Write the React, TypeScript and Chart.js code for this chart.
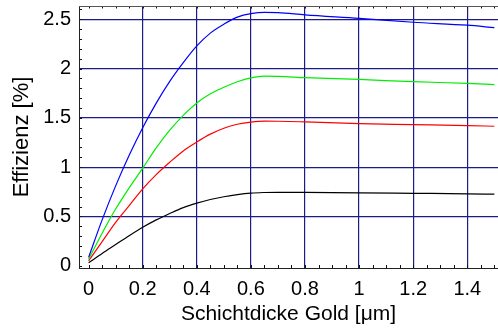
import React, { useEffect, useRef } from "react";
import { Chart, registerables } from "chart.js";

Chart.register(...registerables);

// thickness of gold layer [µm]
const thickness = [0, 0.05, 0.1, 0.15, 0.2, 0.25, 0.3, 0.35, 0.4, 0.45, 0.5, 0.55, 0.6, 0.65, 0.7, 0.8, 1.0, 1.2, 1.4, 1.5];

// efficiency [%]
const blueSeries = [0.085, 0.465, 0.81, 1.12, 1.4, 1.65, 1.87, 2.06, 2.23, 2.36, 2.45, 2.522, 2.557, 2.57, 2.568, 2.545, 2.51, 2.47, 2.44, 2.415];
const greenSeries = [0.065, 0.33, 0.575, 0.79, 0.99, 1.195, 1.375, 1.525, 1.65, 1.745, 1.81, 1.866, 1.906, 1.923, 1.922, 1.908, 1.89, 1.867, 1.85, 1.838];
const redSeries = [0.05, 0.245, 0.44, 0.61, 0.78, 0.925, 1.05, 1.165, 1.255, 1.335, 1.395, 1.435, 1.457, 1.467, 1.466, 1.459, 1.442, 1.432, 1.422, 1.415];
const blackSeries = [0.03, 0.125, 0.215, 0.305, 0.39, 0.465, 0.53, 0.59, 0.635, 0.672, 0.7, 0.722, 0.737, 0.743, 0.745, 0.744, 0.74, 0.735, 0.73, 0.726];

// axis ticks
const xMinorTicks = Array.from({ length: 31 }, (_, i) => Number((i * 0.05).toFixed(2)));
const yMinorTicks = Array.from({ length: 27 }, (_, i) => Number((i * 0.1).toFixed(2)));
const xLabelStep = 0.2;
const yLabelStep = 0.5;

const X_MIN = -0.0355;
const X_MAX = 1.5135;
const Y_MIN = -0.023;
const Y_MAX = 2.635;

const FONT = "'Liberation Sans', Arial, Helvetica, sans-serif";
const GRID = "rgb(28,28,135)";

const isMultiple = (v: number, step: number) => {
  const r = v / step;
  return Math.abs(r - Math.round(r)) < 1e-6;
};
const fmt = (v: number) => String(Number(v.toFixed(2)));

const toPoints = (ys: number[]) => thickness.map((x, i) => ({ x, y: ys[i] }));

const noPad = (s: any) => {
  s.paddingTop = 0;
  s.paddingBottom = 0;
  s.paddingLeft = 0;
  s.paddingRight = 0;
};

const framePlugin = {
  id: "frameTicks",
  afterDraw(chart: any) {
    const { ctx, chartArea: a, scales } = chart;
    const xs = scales.x;
    const ys = scales.y;
    ctx.save();
    ctx.lineWidth = 1;
    ctx.strokeStyle = "#111";
    ctx.beginPath();
    xMinorTicks.forEach((v) => {
      const p = Math.round(xs.getPixelForValue(v)) + 0.5;
      ctx.moveTo(p, a.bottom);
      ctx.lineTo(p, a.bottom - 3);
      ctx.moveTo(p, a.top);
      ctx.lineTo(p, a.top + 2.5);
    });
    yMinorTicks.forEach((v) => {
      const p = Math.round(ys.getPixelForValue(v)) + 0.5;
      ctx.moveTo(a.left, p);
      ctx.lineTo(a.left + 3, p);
    });
    ctx.stroke();
    ctx.beginPath();
    ctx.strokeStyle = "#222";
    ctx.moveTo(Math.round(a.left) + 0.5, a.top);
    ctx.lineTo(Math.round(a.left) + 0.5, a.bottom);
    ctx.moveTo(a.left, Math.round(a.bottom) + 0.5);
    ctx.lineTo(a.right, Math.round(a.bottom) + 0.5);
    ctx.stroke();
    ctx.beginPath();
    ctx.strokeStyle = "#555";
    ctx.moveTo(a.left, Math.round(a.top) + 0.5);
    ctx.lineTo(a.right, Math.round(a.top) + 0.5);
    ctx.stroke();
    ctx.restore();
  },
};

export default function App() {
  const ref = useRef<HTMLCanvasElement | null>(null);

  useEffect(() => {
    if (!ref.current) return;
    const mk = (data: number[], color: string) => ({
      data: toPoints(data),
      borderColor: color,
      backgroundColor: color,
      borderWidth: 1.2,
      pointRadius: 0,
      fill: false,
      cubicInterpolationMode: "monotone" as const,
    });
    const chart = new Chart(ref.current, {
      type: "line",
      data: {
        datasets: [
          mk(blueSeries, "#0000ff"),
          mk(greenSeries, "#00ee00"),
          mk(redSeries, "#ff0000"),
          mk(blackSeries, "#000000"),
        ],
      },
      options: {
        animation: false,
        responsive: true,
        maintainAspectRatio: false,
        layout: { padding: { top: 6, right: 0, left: 0, bottom: 0 } },
        plugins: { legend: { display: false }, tooltip: { enabled: false } },
        scales: {
          x: {
            type: "linear",
            min: X_MIN,
            max: X_MAX,
            afterBuildTicks: (s: any) => {
              s.ticks = xMinorTicks.map((v) => ({ value: v }));
            },
            afterFit: (s: any) => {
              s.height = 61;
              noPad(s);
            },
            ticks: {
              autoSkip: false,
              maxRotation: 0,
              padding: 9,
              color: "#000",
              font: { family: FONT, size: 20 },
              callback: (v: any) => (isMultiple(Number(v), xLabelStep) ? fmt(Number(v)) : ""),
            },
            grid: {
              drawTicks: false,
              lineWidth: 1.2,
              color: (c: any) =>
                c.tick && isMultiple(c.tick.value, xLabelStep) && Math.abs(c.tick.value) > 1e-6
                  ? GRID
                  : "rgba(0,0,0,0)",
            },
            border: { display: false },
            title: {
              display: true,
              text: "Schichtdicke Gold [μm]",
              color: "#000",
              font: { family: FONT, size: 21 },
              padding: { top: 0, bottom: 2 },
            },
          },
          y: {
            type: "linear",
            min: Y_MIN,
            max: Y_MAX,
            afterBuildTicks: (s: any) => {
              s.ticks = yMinorTicks.map((v) => ({ value: v }));
            },
            afterFit: (s: any) => {
              s.width = 79;
              noPad(s);
            },
            ticks: {
              autoSkip: false,
              padding: 8,
              color: "#000",
              font: { family: FONT, size: 20 },
              callback: (v: any) => (isMultiple(Number(v), yLabelStep) ? fmt(Number(v)) : ""),
            },
            grid: {
              drawTicks: false,
              lineWidth: 1.2,
              color: (c: any) =>
                c.tick && isMultiple(c.tick.value, yLabelStep) && Math.abs(c.tick.value) > 1e-6
                  ? GRID
                  : "rgba(0,0,0,0)",
            },
            border: { display: false },
            title: {
              display: true,
              text: "Effizienz [%]",
              color: "#000",
              font: { family: FONT, size: 22 },
              padding: { top: 9, bottom: 0 },
            },
          },
        },
      },
      plugins: [framePlugin],
    });
    return () => chart.destroy();
  }, []);

  return (
    <div style={{ position: "absolute", left: 0, top: 0, width: 498, height: 329, background: "#fff" }}>
      <canvas ref={ref} />
    </div>
  );
}
